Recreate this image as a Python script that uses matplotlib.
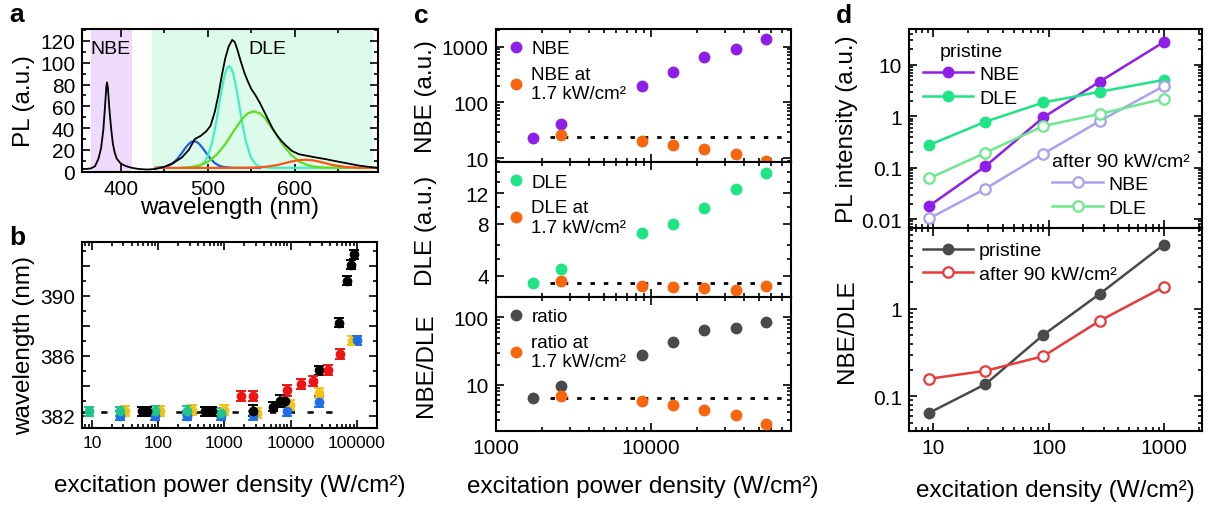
import matplotlib
matplotlib.use("Agg")
import matplotlib.pyplot as plt
from matplotlib.ticker import LogLocator, NullFormatter, MultipleLocator, FixedLocator

plt.rcParams['font.family'] = ['Liberation Sans', 'DejaVu Sans']

# ---------------- panel a: PL spectrum and fit components ----------------
wl_black = [355, 360, 365, 370, 374, 377, 379.5, 381.5, 383, 383.8,
            384.8, 386.5, 388.5, 390.5, 392.5, 395, 399, 403, 408, 413,
            420, 430, 440, 450, 460, 470, 478, 485, 492, 498,
            503, 508, 512, 516, 520, 524, 528, 531, 534, 538,
            542, 546, 550, 555, 560, 565, 570, 575, 580, 585,
            590, 597, 605, 615, 625, 636, 645, 655, 665, 675,
            685, 695]
pl_black = [2.5, 2.5, 3, 5, 12, 22, 38, 60, 78, 82,
            77, 58, 40, 26, 18, 12, 8, 6, 4.5, 3.5,
            2.5, 2, 2.5, 4.5, 8, 13, 20, 30, 33, 37,
            42, 55, 70, 88, 104, 115, 121, 119, 112, 101,
            91, 83, 76, 70, 63, 55, 47, 39, 33, 28,
            24, 19, 16, 14.5, 13, 11.5, 10, 8.5, 7, 5.5,
            4.5, 3.5]
wl_blue = [440, 450, 455, 460, 465, 470, 474, 478, 481, 484, 487, 490, 494, 498, 503, 508, 513, 518, 530, 560]
pl_blue = [3.6, 4.3, 5.5, 7.9, 11.9, 17.2, 21.7, 25.5, 27.4, 28, 27.4, 25.5, 21.7, 17.2, 11.9, 7.9, 5.5, 4.3, 3.5, 3.5]
wl_cyan = [480, 490, 495, 500, 505, 508, 510, 513, 515, 518, 520, 522, 524.5,
           527, 529, 531, 534, 536, 539, 541, 544, 549, 554, 559, 570, 695]
pl_cyan = [3.6, 4.8, 7.6, 14.3, 27.4, 38.7, 47.4, 61.7, 71.1, 83.8, 90.5, 94.9, 97,
           94.9, 90.5, 83.8, 71.1, 61.7, 47.4, 38.7, 27.4, 14.3, 7.6, 4.8, 3.6, 3.5]
wl_green = [470, 480, 490, 500, 510, 520, 530, 540, 546, 553, 560, 566, 576, 586, 596, 606, 616, 626, 636, 695]
pl_green = [3.7, 4.2, 5.7, 9.0, 15.4, 25.2, 37.6, 49.0, 53.5, 55.5, 53.5, 49.0, 37.6, 25.2, 15.4, 9.0, 5.7, 4.2, 3.7, 3.5]
wl_orange = [440, 540, 550, 565, 580, 595, 603, 612, 621, 629, 644, 659, 674, 695]
pl_orange = [3.5, 3.5, 3.6, 4.3, 6.1, 9.1, 10.4, 11, 10.4, 9.1, 6.1, 4.3, 3.6, 3.5]
nbe_band = (365, 413)
dle_band = (436, 690)

# ---------------- panel b: NBE peak position vs power ----------------
b_black_x = [57, 68, 513, 646, 2750, 5500, 6900, 8300, 27300, 54100, 70700, 82000, 91000]
b_black_y = [382.3, 382.3, 382.3, 382.3, 382.35, 382.6, 383.0, 383.0, 385.05, 388.2, 391.0, 392.05, 392.75]
b_black_e = [0.3, 0.3, 0.3, 0.3, 0.35, 0.3, 0.4, 0.4, 0.3, 0.3, 0.3, 0.3, 0.3]
b_red_x = [1800, 2750, 9000, 14400, 22100, 36500, 56000]
b_red_y = [383.35, 383.35, 383.7, 384.1, 384.35, 385.05, 386.1]
b_red_e = [0.33, 0.33, 0.38, 0.33, 0.33, 0.33, 0.33]
b_gold_x = [32, 107, 324, 1000, 3100, 9800, 27300, 84000]
b_gold_y = [382.35, 382.35, 382.4, 382.4, 382.2, 382.7, 383.5, 387.0]
b_gold_e = [0.33, 0.33, 0.33, 0.33, 0.33, 0.33, 0.33, 0.3]
b_blue_x = [27, 90, 270, 900, 2750, 8700, 27300, 100000]
b_blue_y = [382.0, 382.0, 382.0, 382.0, 382.05, 382.3, 382.95, 387.05]
b_blue_e = [0.3, 0.3, 0.3, 0.3, 0.3, 0.3, 0.35, 0.3]
b_teal_x = [9.2, 27, 90, 270, 900]
b_teal_y = [382.3, 382.3, 382.35, 382.35, 382.2]
b_teal_e = [0.3, 0.3, 0.3, 0.3, 0.3]
b_level = 382.27
b_level_span = (7, 60000)

# ---------------- panel c: intensities after power steps ----------------
c_x = [1750, 2640, 8830, 14000, 22100, 35300, 55800]
c_nbe = [23, 42, 201, 353, 663, 910, 1390]
c_nbe_ref = [25.7, 20.4, 17.3, 14.7, 12.1, 9.0]
c_dle = [3.62, 4.36, 7.03, 8.0, 9.89, 12.7, 15.8]
c_dle_ref = [3.74, 3.51, 3.43, 3.39, 3.30, 3.49]
c_ratio = [6.36, 9.56, 27.7, 42.7, 65, 70.3, 86]
c_ratio_ref = [6.8, 5.74, 5.0, 4.28, 3.6, 2.6]
c_levels = [23.7, 3.62, 6.36]
c_level_start = 2250

# ---------------- panel d: pristine vs after 90 kW/cm2 ----------------
d_x = [9.2, 28.3, 90, 277, 990]
d_nbe_pristine = [0.018, 0.107, 0.955, 4.73, 27.7]
d_dle_pristine = [0.276, 0.785, 1.86, 3.0, 5.1]
d_nbe_after = [0.0103, 0.039, 0.187, 0.81, 3.85]
d_dle_after = [0.062, 0.196, 0.647, 1.11, 2.19]
d_ratio_pristine = [0.065, 0.138, 0.505, 1.48, 5.37]
d_ratio_after = [0.159, 0.196, 0.288, 0.73, 1.77]

purple = '#8f1ee8'
orange = '#f8650c'
mint = '#1ee486'
LABEL = 17.5

fig = plt.figure(figsize=(12.08, 5.06), dpi=100)
ax_a = fig.add_axes([0.0679, 0.6587, 0.2450, 0.2820])
ax_b = fig.add_axes([0.0679, 0.1522, 0.2445, 0.3682])
ax_c1 = fig.add_axes([0.4103, 0.6773, 0.2442, 0.2634])
ax_c2 = fig.add_axes([0.4103, 0.4117, 0.2442, 0.2656])
ax_c3 = fig.add_axes([0.4103, 0.1468, 0.2442, 0.2648])
ax_d1 = fig.add_axes([0.7525, 0.5468, 0.2423, 0.3939])
ax_d2 = fig.add_axes([0.7525, 0.1457, 0.2423, 0.4012])


def style(ax, size=15):
    for s in ax.spines.values():
        s.set_linewidth(1.5)
    ax.tick_params(which='both', direction='in', top=True, right=True,
                   width=1.2, labelsize=size, pad=5)
    ax.tick_params(which='major', length=5.5)
    ax.tick_params(which='minor', length=3)


def logx(ax, ticks, labels):
    ax.set_xscale('log')
    ax.xaxis.set_major_locator(FixedLocator(ticks))
    ax.set_xticklabels(labels)
    ax.xaxis.set_minor_locator(LogLocator(base=10, subs=range(2, 10), numticks=20))
    ax.xaxis.set_minor_formatter(NullFormatter())


def logy(ax, ticks, labels):
    ax.set_yscale('log')
    ax.yaxis.set_major_locator(FixedLocator(ticks))
    ax.set_yticklabels(labels)
    ax.yaxis.set_minor_locator(LogLocator(base=10, subs=range(2, 10), numticks=20))
    ax.yaxis.set_minor_formatter(NullFormatter())


# ---- a ----
ax_a.axvspan(*nbe_band, color='#efdafb', lw=0, zorder=0)
ax_a.axvspan(*dle_band, color='#dcfbea', lw=0, zorder=0)
ax_a.plot(wl_blue, pl_blue, color='#1c5fe0', lw=1.6)
ax_a.plot(wl_cyan, pl_cyan, color='#3ff0c4', lw=1.6)
ax_a.plot(wl_green, pl_green, color='#62dc1c', lw=1.6)
ax_a.plot(wl_orange, pl_orange, color='#ff5414', lw=1.6)
ax_a.plot(wl_black, pl_black, color='black', lw=1.3)
ax_a.text(388, 113, 'NBE', fontsize=14, ha='center', va='center')
ax_a.text(568, 113, 'DLE', fontsize=14, ha='center', va='center')
ax_a.set_xlim(355, 696)
ax_a.set_ylim(0, 131)
ax_a.xaxis.set_major_locator(MultipleLocator(100))
ax_a.xaxis.set_minor_locator(MultipleLocator(50))
ax_a.yaxis.set_major_locator(MultipleLocator(20))
ax_a.yaxis.set_minor_locator(MultipleLocator(10))
style(ax_a)
ax_a.set_ylabel('PL (a.u.)', fontsize=LABEL)
ax_a.set_xlabel('wavelength (nm)', fontsize=LABEL)
ax_a.yaxis.set_label_coords(-0.16, 0.5)
ax_a.xaxis.set_label_coords(0.5, -0.17)

# ---- b ----
ax_b.hlines(b_level, *b_level_span, colors='black', lw=1.8, linestyles=(0, (2.5, 5)), zorder=1)
for xs, ys, es, col in [(b_gold_x, b_gold_y, b_gold_e, '#f4c20f'),
                        (b_blue_x, b_blue_y, b_blue_e, '#1f6fe8'),
                        (b_teal_x, b_teal_y, b_teal_e, '#1fc48e'),
                        (b_black_x, b_black_y, b_black_e, 'black'),
                        (b_red_x, b_red_y, b_red_e, '#ee1414')]:
    ax_b.errorbar(xs, ys, yerr=es, fmt='o', color=col, ms=6, capsize=3.6,
                  capthick=1.4, elinewidth=1.4, zorder=3)
style(ax_b)
logx(ax_b, [10, 100, 1000, 10000, 100000], ['10', '100', '1000', '10000', '100000'])
ax_b.set_xlim(7.1, 2.05e5)
ax_b.set_ylim(381.2, 393.6)
ax_b.yaxis.set_major_locator(FixedLocator([382, 384, 386, 388, 390, 392]))
ax_b.set_yticklabels(['382', '', '386', '', '390', ''])
ax_b.yaxis.set_minor_locator(MultipleLocator(1))
ax_b.tick_params(axis='x', labelsize=12.5)
ax_b.set_ylabel('wavelength (nm)', fontsize=LABEL)
ax_b.set_xlabel('excitation power density (W/cm²)', fontsize=LABEL)
ax_b.yaxis.set_label_coords(-0.16, 0.45)
ax_b.xaxis.set_label_coords(0.5, -0.245)

# ---- c ----
c_panels = [(ax_c1, c_nbe, c_nbe_ref, purple, 'NBE', (8.5, 2070)),
            (ax_c2, c_dle, c_dle_ref, mint, 'DLE', (3.03, 18.1)),
            (ax_c3, c_ratio, c_ratio_ref, '#4a4a4a', 'ratio', (2.1, 201))]
for (ax, main, ref, col, name, ylim), level in zip(c_panels, c_levels):
    ax.hlines(level, c_level_start, 80000, colors='black', lw=2,
              linestyles=(0, (1.6, 3.2)), zorder=1)
    ax.plot(c_x, main, 'o', color=col, ms=7.5, label=name, clip_on=False, zorder=3)
    ax.plot(c_x[1:], ref, 'o', color=orange, ms=7.5, label=name + ' at\n1.7 kW/cm²',
            clip_on=False, zorder=3)
    style(ax)
    logx(ax, [1000, 10000], ['1000', '10000'])
    ax.set_xlim(1000, 80000)
    ax.set_yscale('log')
    ax.set_ylim(*ylim)
    ax.legend(loc='upper left', frameon=False, fontsize=13.5, handletextpad=0.3,
              handlelength=1.0, borderaxespad=0.2, labelspacing=0.45)
    ax.yaxis.set_label_coords(-0.2, 0.5)
ax_c1.tick_params(labelbottom=False)
ax_c2.tick_params(labelbottom=False)
logy(ax_c1, [10, 100, 1000], ['10', '100', '1000'])
ax_c2.yaxis.set_major_locator(FixedLocator([4, 8, 12]))
ax_c2.set_yticklabels(['4', '8', '12'])
ax_c2.yaxis.set_minor_locator(FixedLocator([5, 6, 10, 14, 16]))
ax_c2.yaxis.set_minor_formatter(NullFormatter())
logy(ax_c3, [10, 100], ['10', '100'])
ax_c1.set_ylabel('NBE (a.u.)', fontsize=LABEL)
ax_c2.set_ylabel('DLE (a.u.)', fontsize=LABEL)
ax_c3.set_ylabel('NBE/DLE', fontsize=LABEL)
ax_c3.set_xlabel('excitation power density (W/cm²)', fontsize=LABEL)
ax_c3.xaxis.set_label_coords(0.5, -0.33)

# ---- d ----
kw = dict(lw=1.8, ms=7.5)
h1, = ax_d1.plot(d_x, d_nbe_pristine, 'o-', color=purple, **kw)
h2, = ax_d1.plot(d_x, d_dle_pristine, 'o-', color=mint, **kw)
h3, = ax_d1.plot(d_x, d_nbe_after, 'o-', color='#a9a2f0', mfc='white', mew=1.6, **kw)
h4, = ax_d1.plot(d_x, d_dle_after, 'o-', color='#6ee88e', mfc='white', mew=1.6, **kw)
for h in (h1, h2, h3, h4):
    h.set_clip_on(False)
leg1 = ax_d1.legend([h1, h2], ['NBE', 'DLE'], title='pristine', loc='upper left',
                    frameon=False, fontsize=14, title_fontsize=14, handlelength=2.6,
                    handletextpad=0.3, borderaxespad=0.3, labelspacing=0.3)
ax_d1.add_artist(leg1)
ax_d1.legend([h3, h4], ['NBE', 'DLE'], title='after 90 kW/cm²', loc='lower right',
             alignment='left', frameon=False, fontsize=14, title_fontsize=14,
             handlelength=2.6, handletextpad=0.3, borderaxespad=0.2, labelspacing=0.3)
style(ax_d1)
logx(ax_d1, [10, 100, 1000], ['10', '100', '1000'])
ax_d1.set_xlim(6.15, 2120)
logy(ax_d1, [0.01, 0.1, 1, 10], ['0.01', '0.1', '1', '10'])
ax_d1.set_ylim(0.0066, 50)
ax_d1.tick_params(labelbottom=False)
ax_d1.set_ylabel('PL intensity (a.u.)', fontsize=LABEL)
ax_d1.yaxis.set_label_coords(-0.175, 0.5)

g1, = ax_d2.plot(d_x, d_ratio_pristine, 'o-', color='#4a4a4a', label='pristine', **kw)
g2, = ax_d2.plot(d_x, d_ratio_after, 'o-', color='#e83a3a', mfc='white', mew=1.6,
                 label='after 90 kW/cm²', **kw)
ax_d2.legend(loc='upper left', frameon=False, fontsize=14, handlelength=2.6,
             handletextpad=0.3, borderaxespad=0.3, labelspacing=0.3)
style(ax_d2)
logx(ax_d2, [10, 100, 1000], ['10', '100', '1000'])
ax_d2.set_xlim(6.15, 2120)
logy(ax_d2, [0.1, 1], ['0.1', '1'])
ax_d2.set_ylim(0.040, 8.3)
ax_d2.set_ylabel('NBE/DLE', fontsize=LABEL)
ax_d2.set_xlabel('excitation density (W/cm²)', fontsize=LABEL)
ax_d2.yaxis.set_label_coords(-0.175, 0.5)
ax_d2.xaxis.set_label_coords(0.5, -0.235)

# panel letters
for letter, (px, py) in zip('abcd', [(9, 22), (9, 245), (414, 23), (836, 23)]):
    fig.text(px / 1208, 1 - py / 506, letter, fontsize=19, fontweight='bold',
             ha='left', va='baseline')

fig.savefig('out.png', dpi=100)
